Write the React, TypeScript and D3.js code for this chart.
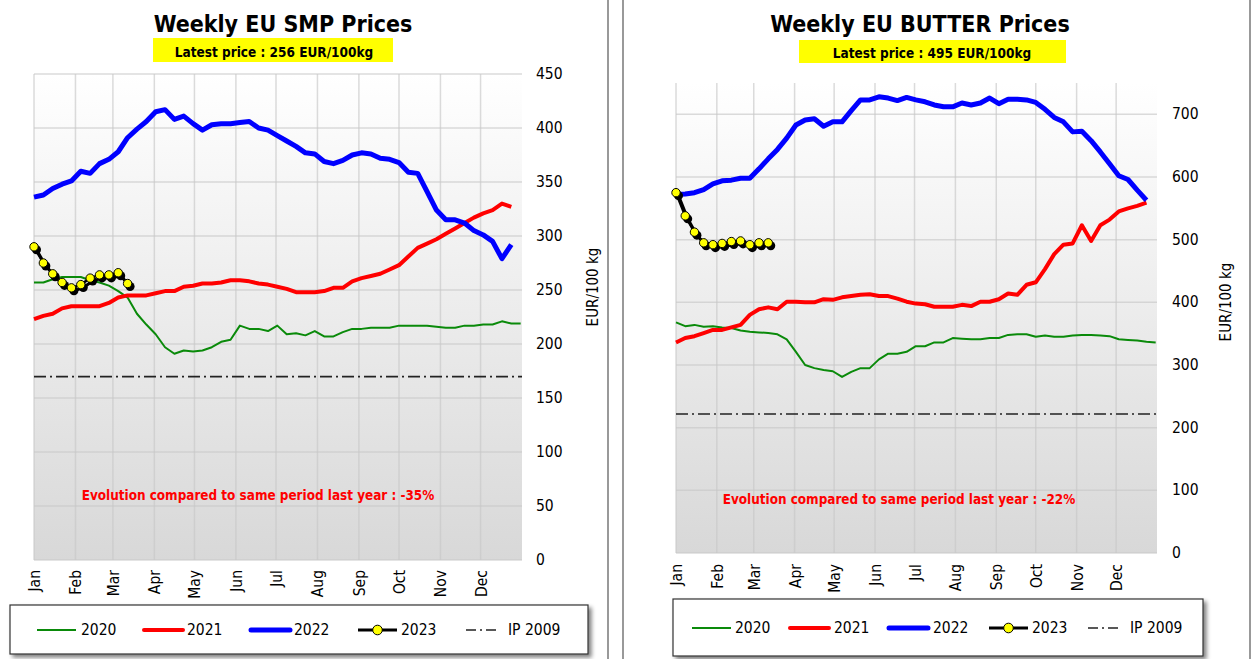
import React from "react";
import * as d3 from "d3";

const MONTHS = ["Jan", "Feb", "Mar", "Apr", "May", "Jun", "Jul", "Aug", "Sep", "Oct", "Nov", "Dec"];
const MONTH_START_DAYS = [0, 31, 59, 90, 120, 151, 181, 212, 243, 273, 304, 334];
const YEAR_DAYS = 365;

const SERIES_NAMES = ["2020", "2021", "2022", "2023", "IP 2009"];

// SMP weekly prices (EUR/100kg)
const SMP_2020 = [257, 257, 260, 262, 262, 262, 259, 257, 254, 249, 243, 228, 218, 209, 197, 191, 194, 193, 194, 197, 202, 204, 217, 214, 214, 212, 217, 209, 210, 208, 212, 207, 207, 211, 214, 214, 215, 215, 215, 217, 217, 217, 217, 216, 215, 215, 217, 217, 218, 218, 221, 219, 219];
const SMP_2021 = [223, 226, 228, 233, 235, 235, 235, 235, 238, 243, 245, 245, 245, 247, 249, 249, 253, 254, 256, 256, 257, 259, 259, 258, 256, 255, 253, 251, 248, 248, 248, 249, 252, 252, 258, 261, 263, 265, 269, 273, 281, 289, 293, 297, 302, 307, 312, 317, 321, 324, 330, 327];
const SMP_2022 = [336, 338, 344, 348, 351, 360, 358, 367, 371, 378, 391, 399, 406, 415, 417, 408, 411, 404, 398, 403, 404, 404, 405, 406, 400, 398, 393, 388, 383, 377, 376, 369, 367, 370, 375, 377, 376, 372, 371, 368, 359, 358, 341, 324, 315, 315, 312, 305, 301, 295, 279, 292];
const SMP_2023 = [290, 275, 265, 257, 252, 255, 261, 264, 264, 266, 256];
const SMP_IP = 169.8;
const SMP_TICKS = [0, 50, 100, 150, 200, 250, 300, 350, 400, 450];
const SMP_LATEST = 256;
const SMP_EVOLUTION = -35;

// Butter weekly prices (EUR/100kg)
const BUTTER_2020 = [368, 362, 364, 361, 362, 360, 359, 355, 353, 352, 351, 349, 341, 321, 300, 295, 292, 290, 281, 289, 295, 295, 309, 318, 318, 321, 330, 330, 336, 336, 343, 342, 341, 341, 343, 343, 348, 349, 349, 345, 347, 345, 345, 347, 348, 348, 347, 346, 341, 340, 339, 337, 336];
const BUTTER_2021 = [336, 343, 346, 351, 356, 356, 360, 364, 380, 389, 392, 389, 401, 401, 400, 400, 405, 404, 408, 410, 412, 413, 410, 410, 406, 401, 398, 397, 393, 393, 393, 396, 394, 401, 401, 405, 414, 412, 428, 432, 453, 477, 492, 494, 523, 498, 523, 532, 545, 550, 554, 559];
const BUTTER_2022 = [572, 573, 575, 580, 589, 594, 595, 598, 598, 613, 629, 644, 662, 683, 691, 693, 681, 688, 688, 706, 723, 723, 728, 726, 722, 727, 723, 720, 715, 712, 712, 718, 715, 718, 726, 717, 724, 724, 723, 719, 708, 695, 688, 672, 673, 658, 640, 621, 602, 596, 579, 563];
const BUTTER_2023 = [575, 538, 512, 495, 492, 494, 497, 498, 492, 495, 495];
const BUTTER_IP = 221.75;
const BUTTER_TICKS = [0, 100, 200, 300, 400, 500, 600, 700];
const BUTTER_LATEST = 495;
const BUTTER_EVOLUTION = -22;

const FONT = "'DejaVu Sans Condensed', 'DejaVu Sans', sans-serif";
const IP_DASH = "12,4,2,4";

type Geo = {
  id: string;
  x0: number; x1: number; yTop: number; yBottom: number; yMax: number;
  titleX: number; boxX: number; boxY: number; boxW: number; boxH: number; boxTextX: number; boxTextY: number;
  evoX: number; evoY: number; yLabelX: number; yLabelY: number; tickX: number; monthGap: number;
  legX: number; legY: number; legW: number; legH: number; legItemY: number; legLineX: number[]; legTextX: number[];
};

type Props = {
  geo: Geo; title: string; latest: number; evolution: number; ip: number; ticks: number[];
  s2020: number[]; s2021: number[]; s2022: number[]; s2023: number[];
};

function Chart({ geo, title, latest, evolution, ip, ticks, s2020, s2021, s2022, s2023 }: Props) {
  const x = d3.scaleLinear().domain([0, YEAR_DAYS]).range([geo.x0, geo.x1]);
  const y = d3.scaleLinear().domain([0, geo.yMax]).range([geo.yBottom, geo.yTop]);
  const line = d3.line<number>().x((_, i) => x(i * 7)).y((d) => y(d));
  const gid = `bg-${geo.id}`;
  const sid = `sh-${geo.id}`;
  const legLen = 39;
  return (
    <g>
      <defs>
        <linearGradient id={gid} x1="0" y1="0" x2="0" y2="1">
          <stop offset="0" stopColor="#ffffff" />
          <stop offset="1" stopColor="#d8d8d8" />
        </linearGradient>
        <filter id={sid} x="-10%" y="-30%" width="130%" height="180%">
          <feGaussianBlur in="SourceAlpha" stdDeviation="2" />
          <feOffset dx="3" dy="3" result="ob" />
          <feComponentTransfer><feFuncA type="linear" slope="0.5" /></feComponentTransfer>
          <feMerge><feMergeNode /><feMergeNode in="SourceGraphic" /></feMerge>
        </filter>
      </defs>
      <text x={geo.titleX} y={32} textAnchor="middle" fontFamily={FONT} fontWeight="bold" fontSize={23} fill="#000">{title}</text>
      <rect x={geo.boxX} y={geo.boxY} width={geo.boxW} height={geo.boxH} fill="#ffff00" />
      <text x={geo.boxTextX} y={geo.boxTextY} textAnchor="middle" fontFamily={FONT} fontWeight="bold" fontSize={13.5} fill="#000">{`Latest price : ${latest} EUR/100kg`}</text>

      <rect x={geo.x0} y={geo.yTop} width={geo.x1 - geo.x0} height={geo.yBottom - geo.yTop} fill={`url(#${gid})`} />
      {ticks.map((t) => (
        <line key={`h${t}`} x1={geo.x0} x2={geo.x1} y1={y(t)} y2={y(t)} stroke="#c8c8c8" strokeOpacity={0.65} strokeWidth={1.5} />
      ))}
      {MONTH_START_DAYS.map((d) => (
        <line key={`v${d}`} x1={x(d)} x2={x(d)} y1={geo.yTop} y2={geo.yBottom} stroke="#c8c8c8" strokeOpacity={0.65} strokeWidth={1.5} />
      ))}
      {ticks.map((t) => (
        <text key={`t${t}`} x={geo.tickX} y={y(t)} dominantBaseline="central" fontFamily={FONT} fontSize={15.5} fill="#000">{t}</text>
      ))}
      {MONTHS.map((m, i) => (
        <text key={m} transform={`translate(${x(MONTH_START_DAYS[i]) + 1},${geo.yBottom + geo.monthGap}) rotate(-90)`} textAnchor="end" dominantBaseline="central" fontFamily={FONT} fontSize={15.5} fill="#000">{m}</text>
      ))}
      <text transform={`translate(${geo.yLabelX},${geo.yLabelY}) rotate(-90)`} textAnchor="middle" dominantBaseline="central" fontFamily={FONT} fontSize={15} fill="#000">EUR/100 kg</text>

      <line x1={geo.x0} x2={geo.x1} y1={y(ip)} y2={y(ip)} stroke="#222" strokeWidth={1.6} strokeDasharray={IP_DASH} />
      <path d={line(s2020) || ""} fill="none" stroke="#0a8a0a" strokeWidth={2} strokeLinejoin="round" />
      <path d={line(s2021) || ""} fill="none" stroke="#ff0000" strokeWidth={4} strokeLinejoin="round" />
      <path d={line(s2022) || ""} fill="none" stroke="#0000ff" strokeWidth={5} strokeLinejoin="round" />
      <g transform="translate(2.5,3)">
        <path d={line(s2023) || ""} fill="none" stroke="#000" strokeWidth={3} />
        {s2023.map((v, i) => <circle key={i} cx={x(i * 7)} cy={y(v)} r={4.5} fill="#000" />)}
      </g>
      <path d={line(s2023) || ""} fill="none" stroke="#000" strokeWidth={2.5} />
      {s2023.map((v, i) => <circle key={i} cx={x(i * 7)} cy={y(v)} r={4.2} fill="#ffff00" stroke="#000" strokeWidth={1} />)}

      <text x={geo.evoX} y={geo.evoY} textAnchor="middle" fontFamily={FONT} fontWeight="bold" fontSize={13.4} fill="#ff0000">{`Evolution compared to same period last year : ${evolution}%`}</text>

      <rect x={geo.legX} y={geo.legY} width={geo.legW} height={geo.legH} fill="#fff" stroke="#333" strokeWidth={1.2} filter={`url(#${sid})`} />
      {SERIES_NAMES.map((n, i) => {
        const lx = geo.legLineX[i];
        const ly = geo.legItemY;
        let mark;
        if (i === 0) mark = <line x1={lx} x2={lx + legLen} y1={ly} y2={ly} stroke="#0a8a0a" strokeWidth={2} />;
        else if (i === 1) mark = <line x1={lx} x2={lx + legLen} y1={ly} y2={ly} stroke="#ff0000" strokeWidth={4} strokeLinecap="round" />;
        else if (i === 2) mark = <line x1={lx} x2={lx + legLen} y1={ly} y2={ly} stroke="#0000ff" strokeWidth={5} strokeLinecap="round" />;
        else if (i === 3) mark = (
          <g>
            <line x1={lx} x2={lx + legLen} y1={ly} y2={ly} stroke="#000" strokeWidth={3} />
            <circle cx={lx + legLen / 2} cy={ly} r={4.8} fill="#ffff00" stroke="#000" strokeWidth={1} />
          </g>
        );
        else mark = <line x1={lx} x2={lx + 33} y1={ly} y2={ly} stroke="#222" strokeWidth={1.5} strokeDasharray="10,4,2,4" />;
        return (
          <g key={n}>
            {mark}
            <text x={geo.legTextX[i]} y={ly} dominantBaseline="central" fontFamily={FONT} fontSize={15.5} fill="#000">{n}</text>
          </g>
        );
      })}
    </g>
  );
}

const LEFT: Geo = {
  id: "smp", x0: 34, x1: 522, yTop: 74, yBottom: 560, yMax: 450,
  titleX: 283, boxX: 153, boxY: 38, boxW: 240, boxH: 24, boxTextX: 274, boxTextY: 57,
  evoX: 258, evoY: 500, yLabelX: 593, yLabelY: 287, tickX: 536, monthGap: 10,
  legX: 10, legY: 605, legW: 578, legH: 49, legItemY: 630,
  legLineX: [37, 144, 251, 358, 466], legTextX: [81, 187, 294, 401, 508],
};

const RIGHT: Geo = {
  id: "butter", x0: 676, x1: 1157, yTop: 83, yBottom: 553, yMax: 750,
  titleX: 920, boxX: 799, boxY: 40, boxW: 267, boxH: 23, boxTextX: 932, boxTextY: 58,
  evoX: 899, evoY: 504, yLabelX: 1226, yLabelY: 302, tickX: 1172, monthGap: 11,
  legX: 673, legY: 599, legW: 530, legH: 57, legItemY: 628,
  legLineX: [692, 790, 889, 989, 1088], legTextX: [735, 834, 933, 1032, 1130],
};

export default function App() {
  return (
    <svg width={1254} height={659} style={{ position: "absolute", left: 0, top: 0, background: "#fff" }}>
      <rect x={0} y={0} width={1254} height={659} fill="#fff" />
      <line x1={608} x2={608} y1={0} y2={659} stroke="#999" strokeWidth={2} />
      <line x1={623} x2={623} y1={0} y2={659} stroke="#999" strokeWidth={2} />
      <line x1={1250} x2={1250} y1={0} y2={659} stroke="#999" strokeWidth={2} />
      <Chart geo={LEFT} title="Weekly EU SMP Prices" latest={SMP_LATEST} evolution={SMP_EVOLUTION} ip={SMP_IP} ticks={SMP_TICKS}
        s2020={SMP_2020} s2021={SMP_2021} s2022={SMP_2022} s2023={SMP_2023} />
      <Chart geo={RIGHT} title="Weekly EU BUTTER Prices" latest={BUTTER_LATEST} evolution={BUTTER_EVOLUTION} ip={BUTTER_IP} ticks={BUTTER_TICKS}
        s2020={BUTTER_2020} s2021={BUTTER_2021} s2022={BUTTER_2022} s2023={BUTTER_2023} />
    </svg>
  );
}
